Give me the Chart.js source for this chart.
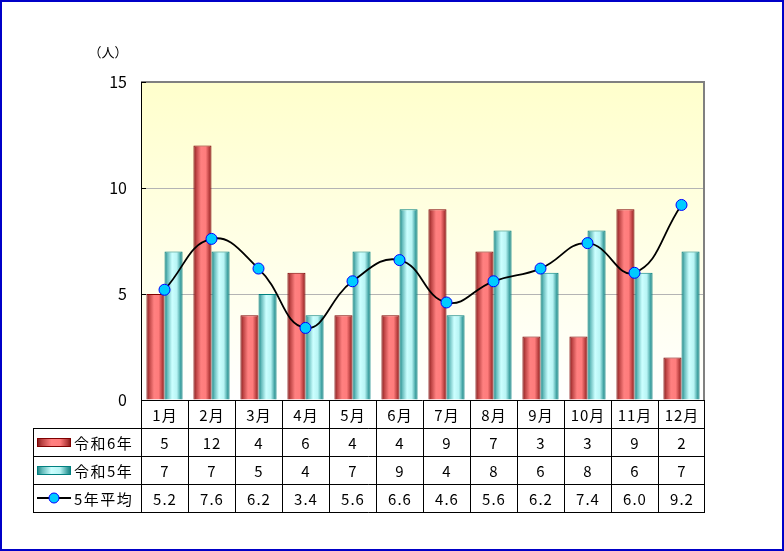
<!DOCTYPE html>
<html>
<head>
<meta charset="utf-8">
<script src="https://cdn.jsdelivr.net/npm/chart.js@4"></script>
<style>
  body { margin: 0; background: #fff; }
  canvas { display: block; }
</style>
</head>
<body>
<canvas id="myChart" width="784" height="551"></canvas>
<script>
// datos del grafico
const meses = ['1月', '2月', '3月', '4月', '5月', '6月', '7月', '8月', '9月', '10月', '11月', '12月'];
const reiwa6 = [5, 12, 4, 6, 4, 4, 9, 7, 3, 3, 9, 2];
const reiwa5 = [7, 7, 5, 4, 7, 9, 4, 8, 6, 8, 6, 7];
const promedio5 = [5.2, 7.6, 6.2, 3.4, 5.6, 6.6, 4.6, 5.6, 6.2, 7.4, 6.0, 9.2];
const promedioTexto = ['5.2', '7.6', '6.2', '3.4', '5.6', '6.6', '4.6', '5.6', '6.2', '7.4', '6.0', '9.2'];
const nombres = ['令和6年', '令和5年', '5年平均'];
const yTicks = [0, 5, 10, 15];

const fuente = '"Noto Sans CJK JP", "DejaVu Sans", sans-serif';

const gradRojo = (ctx, x0, x1) => {
    const g = ctx.createLinearGradient(x0, 0, x1, 0);
    g.addColorStop(0, '#7a1515');
    g.addColorStop(0.14, '#b84040');
    g.addColorStop(0.42, '#ff8080');
    g.addColorStop(0.68, '#ff7c7c');
    g.addColorStop(0.9, '#b03838');
    g.addColorStop(1, '#7a1010');
    return g;
}
const gradVerde = (ctx, x0, x1) => {
    const g = ctx.createLinearGradient(x0, 0, x1, 0);
    g.addColorStop(0, '#157f7f');
    g.addColorStop(0.16, '#66bcbc');
    g.addColorStop(0.42, '#ccffff');
    g.addColorStop(0.68, '#b8f4f4');
    g.addColorStop(0.9, '#3a9e9e');
    g.addColorStop(1, '#0f7a7a');
    return g;
}

// fondo del area, barras con degradado, marco
const pluginFondo = {
    id: 'fondo',
    beforeDraw(chart) {
        const {ctx, chartArea: a} = chart;
        ctx.save();
        ctx.fillStyle = '#ffffff';
        ctx.fillRect(0, 0, chart.width, chart.height);
        const g = ctx.createLinearGradient(0, a.top, 0, a.bottom);
        g.addColorStop(0, '#ffffcc');
        g.addColorStop(1, '#ffffff');
        ctx.fillStyle = g;
        ctx.fillRect(a.left, a.top, a.right - a.left, a.bottom - a.top);
        ctx.restore();
    },
    beforeDatasetsDraw(chart) {
        const ctx = chart.ctx;
        [0, 1].forEach(i => {
            const meta = chart.getDatasetMeta(i);
            meta.data.forEach(bar => {
                const p = bar.getProps(['x', 'width'], true);
                const x0 = p.x - p.width / 2, x1 = p.x + p.width / 2;
                bar.options.backgroundColor = i === 0 ? gradRojo(ctx, x0, x1) : gradVerde(ctx, x0, x1);
            });
        });
    },
    afterDatasetsDraw(chart) {
        const {ctx, chartArea: a} = chart;
        ctx.save();
        // marco gris arriba y derecha
        ctx.strokeStyle = '#808080';
        ctx.lineWidth = 2;
        ctx.beginPath();
        ctx.moveTo(a.left, a.top);
        ctx.lineTo(a.right - 1, a.top);
        ctx.lineTo(a.right - 1, a.bottom);
        ctx.stroke();
        // eje y
        ctx.strokeStyle = '#000';
        ctx.lineWidth = 1;
        ctx.beginPath();
        ctx.moveTo(a.left + 0.5, a.top);
        ctx.lineTo(a.left + 0.5, a.bottom);
        const y = chart.scales.y;
        yTicks.forEach(v => {
            const py = Math.round(y.getPixelForValue(v)) + 0.5;
            ctx.moveTo(a.left, py);
            ctx.lineTo(a.left + 5, py);
        });
        ctx.stroke();
        ctx.restore();
    }
}

// tabla de datos debajo del grafico
const pluginTabla = {
    id: 'tabla',
    afterDraw(chart) {
        const {ctx, chartArea: a} = chart;
        const xs = chart.scales.x;
        const ancho = (a.right - a.left) / meses.length;
        const alto = 28;
        const top = Math.round(a.bottom);
        const izq = 33;
        const der = Math.round(a.right) - 1;
        ctx.save();
        ctx.strokeStyle = '#000';
        ctx.lineWidth = 1;
        ctx.beginPath();
        ctx.moveTo(a.left, top + 0.5);
        ctx.lineTo(der, top + 0.5);
        for (let r = 1; r <= 4; r++) {
            ctx.moveTo(izq, top + r * alto + 0.5);
            ctx.lineTo(der + 0.5, top + r * alto + 0.5);
        }
        ctx.moveTo(izq + 0.5, top + alto);
        ctx.lineTo(izq + 0.5, top + 4 * alto + 1);
        for (let c = 0; c <= meses.length; c++) {
            const px = Math.round(a.left + c * ancho) + 0.5 - (c === meses.length ? 1 : 0);
            ctx.moveTo(px, top);
            ctx.lineTo(px, top + 4 * alto + 1);
        }
        ctx.stroke();

        ctx.fillStyle = '#000';
        ctx.font = '15px ' + fuente;
        ctx.letterSpacing = '1px';
        ctx.textAlign = 'center';
        ctx.textBaseline = 'middle';
        const filas = [meses, reiwa6.map(String), reiwa5.map(String), promedioTexto];
        filas.forEach((fila, r) => {
            fila.forEach((t, i) => {
                ctx.fillText(t, xs.getPixelForValue(i) + 0.5, top + r * alto + alto / 2 + 1);
            });
        });

        // leyenda en la columna izquierda
        ctx.textAlign = 'left';
        ctx.letterSpacing = '1.5px';
        nombres.forEach((n, r) => {
            const cy = top + (r + 1) * alto + alto / 2;
            ctx.fillStyle = '#000';
            ctx.fillText(n, 74, cy + 1);
        });
        ctx.letterSpacing = '0px';
        let cy = top + alto + alto / 2;
        ctx.fillStyle = gradRojo(ctx, 37, 71);
        ctx.fillRect(37, cy - 4, 34, 9);
        ctx.strokeStyle = '#800000';
        ctx.strokeRect(37.5, cy - 3.5, 33, 8);
        cy += alto;
        ctx.fillStyle = gradVerde(ctx, 37, 71);
        ctx.fillRect(37, cy - 4, 34, 9);
        ctx.strokeStyle = '#008080';
        ctx.strokeRect(37.5, cy - 3.5, 33, 8);
        cy += alto;
        ctx.strokeStyle = '#000';
        ctx.lineWidth = 2;
        ctx.beginPath();
        ctx.moveTo(37, cy);
        ctx.lineTo(71, cy);
        ctx.stroke();
        ctx.beginPath();
        ctx.arc(54, cy, 5, 0, Math.PI * 2);
        ctx.fillStyle = '#00ccff';
        ctx.fill();
        ctx.lineWidth = 1;
        ctx.strokeStyle = '#0000ff';
        ctx.stroke();

        // unidad
        ctx.fillStyle = '#000';
        ctx.font = '13px ' + fuente;
        ctx.textAlign = 'center';
        ctx.fillText('（人）', 108, 52);

        // borde azul
        ctx.strokeStyle = '#0000c8';
        ctx.lineWidth = 2;
        ctx.strokeRect(1, 1, chart.width - 2, chart.height - 2);
        ctx.restore();
    }
}

const pintarGrafica = () => {
    const ctx = document.getElementById('myChart');
    const myChart = new Chart(ctx, {
        data: {
            labels: meses,
            datasets: [
                {
                    type: 'bar',
                    label: nombres[0],
                    data: reiwa6,
                    backgroundColor: () => '#ff8080',
                    borderColor: '#800000',
                    borderWidth: 1,
                    borderSkipped: 'bottom',
                    categoryPercentage: 0.77,
                    barPercentage: 1,
                    order: 2
                },
                {
                    type: 'bar',
                    label: nombres[1],
                    data: reiwa5,
                    backgroundColor: () => '#ccffff',
                    borderColor: '#008080',
                    borderWidth: 1,
                    borderSkipped: 'bottom',
                    categoryPercentage: 0.77,
                    barPercentage: 1,
                    order: 2
                },
                {
                    type: 'line',
                    label: nombres[2],
                    data: promedio5,
                    borderColor: '#000',
                    borderWidth: 1.8,
                    tension: 0.45,
                    pointRadius: 5.5,
                    pointBackgroundColor: '#00ccff',
                    pointBorderColor: '#0000ff',
                    pointBorderWidth: 1,
                    order: 1
                }
            ]
        },
        options: {
            responsive: false,
            animation: false,
            layout: {
                padding: {left: 0, top: 82, right: 79, bottom: 151}
            },
            plugins: {
                legend: {display: false},
                tooltip: {enabled: false}
            },
            scales: {
                x: {
                    display: false
                },
                y: {
                    min: 0,
                    max: 15,
                    afterFit: (s) => { s.width = 141; },
                    afterBuildTicks: (s) => { s.ticks = yTicks.map(v => ({value: v})); },
                    ticks: {
                        color: '#000',
                        padding: 14,
                        font: {size: 16, family: fuente}
                    },
                    grid: {
                        drawTicks: false,
                        color: (c) => (c.tick && (c.tick.value === 0 || c.tick.value === 15)) ? 'rgba(0,0,0,0)' : '#b4b4b4'
                    },
                    border: {display: false}
                }
            }
        },
        plugins: [pluginFondo, pluginTabla]
    });
}

pintarGrafica();
</script>
</body>
</html>
